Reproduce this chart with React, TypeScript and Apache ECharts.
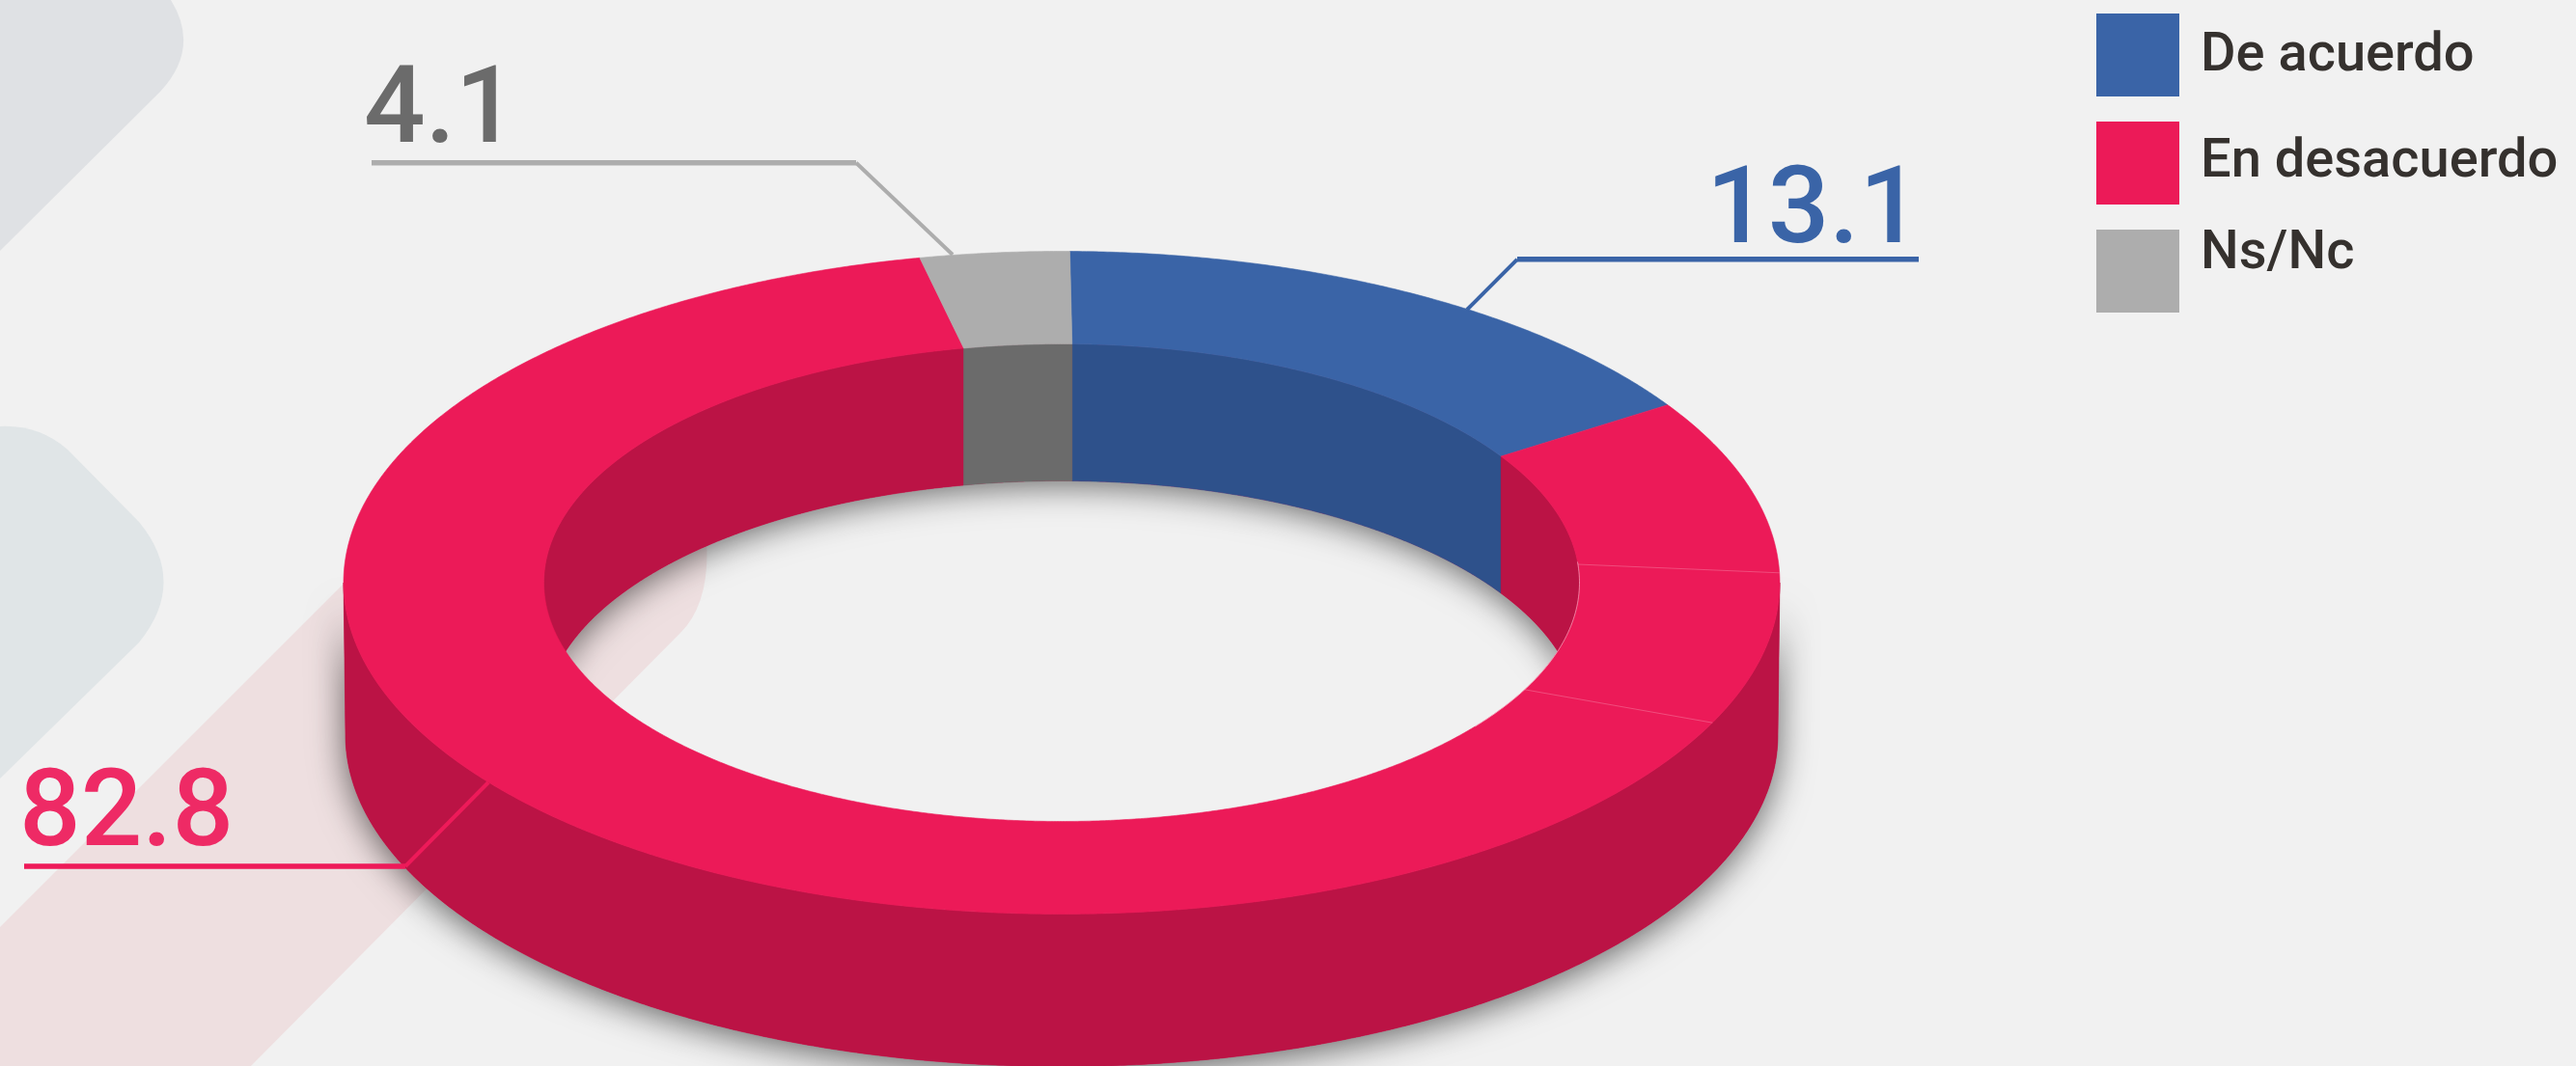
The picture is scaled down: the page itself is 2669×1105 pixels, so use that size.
import React, { useEffect, useRef } from "react";
import * as echarts from "echarts";

const categories = ["De acuerdo", "En desacuerdo", "Ns/Nc"];
const values = [13.1, 82.8, 4.1];
const topColors = ["#3a64a7", "#ec1a58", "#adadad"];
const wallColors = ["#2e518b", "#bb1345", "#6b6b6b"];
const labelColors = ["#3a64a7", "#ee2a65", "#6b6b6b"];

const W = 2669;
const H = 1105;
const CX = 1100;
const CY = 604;
const OUTER = { a: 744, b: 343.5 };
const INNER = { a: 536.5, b: 247.5 };
const OUTER_DEPTH = 158;
const INNER_DEPTH = 142;
// The reference ring is drawn in a hand-tuned perspective: slices are warped around the ellipse.
const WARP = { offset: 43.15, sin: -5.16, cos: -42.25 };
const OUTER_SKEW = -0.25;
const INNER_SKEW = 0.25;
const SEAM_INNER = [85.6, 116.6];
const SEAM_OUTER = [88.3, 115];

const total = values.reduce((s, v) => s + v, 0);
const rad = (d: number) => (d * Math.PI) / 180;
const warp = (theta: number) =>
  theta + WARP.offset + WARP.sin * Math.sin(rad(theta)) + WARP.cos * Math.cos(rad(theta));
const shareToAngle = (share: number) => warp(echarts.number.linearMap(share, [0, total], [0, 360]));

const cumulative = values.map((_, i) => values.slice(0, i).reduce((s, v) => s + v, 0));
const sliceRange = (i: number, skew: number): [number, number] => [
  shareToAngle(cumulative[i]) + skew,
  shareToAngle(cumulative[i] + values[i]) + skew,
];

type Ell = { a: number; b: number };
const pt = (e: Ell, phi: number, cy: number) => [CX + e.a * Math.sin(rad(phi)), cy - e.b * Math.cos(rad(phi))];
function arc(e: Ell, s: number, t: number, cy: number) {
  const n = Math.max(2, Math.ceil(Math.abs(t - s) * 3));
  const out: number[][] = [];
  for (let k = 0; k <= n; k++) out.push(pt(e, s + ((t - s) * k) / n, cy));
  return out;
}
function clip(r: [number, number], windows: [number, number][]) {
  const out: [number, number][] = [];
  for (const w of windows) {
    const s = Math.max(r[0], w[0]);
    const t = Math.min(r[1], w[1]);
    if (t > s) out.push([s, t]);
  }
  return out;
}
const OUTER_VISIBLE: [number, number][] = [[90, 270]];
const INNER_VISIBLE: [number, number][] = [[-90, 90], [270, 450]];
const OUTER_BASE = { a: 742, b: 343.5 };

const wall = (top: Ell, base: Ell, depth: number, s: number, t: number) => [
  ...arc(top, s, t, CY),
  ...arc(base, t, s, CY + depth),
];

function wallItem(i: number, top: Ell, base: Ell, depth: number, windows: [number, number][], skew: number) {
  return {
    type: "group",
    children: clip(sliceRange(i, skew), windows).map(([s, t]) => ({
      type: "polygon",
      shape: { points: wall(top, base, depth, s, t) },
      style: { fill: wallColors[i], stroke: wallColors[i], lineWidth: 0.6 },
    })),
  };
}

const indices = values.map((_, i) => i);

const bands = [
  { name: "bandA", d: "M0,0 L177,0 Q208,50 166,95 L0,260 Z", fill: "#dfe1e4" },
  { name: "bandB", d: "M0,442 Q40,440 70,466 L144,541 Q195,603 144,666 L0,807 Z", fill: "#e0e5e7" },
  { name: "bandC", d: "M0,961 L580,381 L732,560 Q736,625 705,656 L260,1105 L0,1105 Z", fill: "#eedfe0" },
];
bands.forEach((b) => echarts.graphic.registerShape(b.name, echarts.graphic.extendPath(b.d, {})));

const leaders = [
  { i: 0, h: [[1572, 268.8], [1988, 268.8]], d: [[1572, 268.8], [1520, 321]] },
  { i: 1, h: [[25, 898], [420, 898]], d: [[420, 898], [506, 811]] },
  { i: 2, h: [[385, 168.8], [887, 168.8]], d: [[887, 168.8], [987, 264]] },
];
const leaderColors = ["#3a64a7", "#ee1a59", "#adadad"];
const labelPos = [
  { x: 1768, y: 256 },
  { x: 20, y: 881 },
  { x: 377, y: 152 },
];
const legendSwatchY = [14, 126, 238];
const legendBaseY = [76, 186, 281];

const FONT = "Roboto";
const ASCENT = 0.885;

function buildOption() {
  const graphic: any[] = [];
  bands.forEach((b) => graphic.push({ type: b.name, x: 0, y: 0, z: 0, silent: true, style: { fill: b.fill } }));
  leaders.forEach((l) => {
    graphic.push({
      type: "polyline", z: 20, silent: true,
      shape: { points: l.h },
      style: { stroke: leaderColors[l.i], lineWidth: 5.5, fill: "none" },
    });
    graphic.push({
      type: "polyline", z: 20, silent: true,
      shape: { points: l.d },
      style: { stroke: leaderColors[l.i], lineWidth: 4, fill: "none" },
    });
    graphic.push({
      type: "text", z: 21, silent: true,
      x: labelPos[l.i].x, y: labelPos[l.i].y - ASCENT * 112,
      style: {
        text: values[l.i].toFixed(1),
        fontFamily: FONT, fontSize: 112, fontWeight: 500,
        fill: labelColors[l.i], align: "left", verticalAlign: "top",
      },
    });
  });
  categories.forEach((c, i) => {
    graphic.push({
      type: "rect", z: 20, silent: true,
      shape: { x: 2172, y: legendSwatchY[i], width: 86, height: 86 },
      style: { fill: topColors[i] },
    });
    graphic.push({
      type: "text", z: 21, silent: true,
      x: 2280, y: legendBaseY[i] - ASCENT * 56,
      style: {
        text: c, fontFamily: FONT, fontSize: 56, fontWeight: 500,
        fill: "#35312e", align: "left", verticalAlign: "top",
      },
    });
  });

  const base = { type: "custom", coordinateSystem: "none", silent: true, animation: false, clip: false };
  return {
    animation: false,
    backgroundColor: "#f1f1f1",
    graphic,
    series: [
      {
        ...base, name: "sombra", z: 2, data: [0],
        renderItem: () => ({
          type: "group",
          children: [
            {
              type: "polygon",
              shape: { points: wall(OUTER, OUTER_BASE, OUTER_DEPTH, 90, 270) },
              style: { fill: wallColors[1], shadowBlur: 36, shadowColor: "rgba(0,0,0,0.6)", shadowOffsetY: 6 },
            },
            {
              type: "polygon",
              shape: { points: wall(INNER, INNER, INNER_DEPTH, -90, 90) },
              style: { fill: wallColors[1], shadowBlur: 36, shadowColor: "rgba(0,0,0,0.6)", shadowOffsetY: 4 },
            },
          ],
        }),
      },
      {
        ...base, name: "pared exterior", z: 3, data: indices,
        renderItem: (_: any, api: any) =>
          wallItem(api.value(0), OUTER, OUTER_BASE, OUTER_DEPTH, OUTER_VISIBLE, OUTER_SKEW),
      },
      {
        ...base, name: "pared interior", z: 4, data: indices,
        renderItem: (_: any, api: any) =>
          wallItem(api.value(0), INNER, INNER, INNER_DEPTH, INNER_VISIBLE, INNER_SKEW),
      },
      {
        ...base, name: "cara superior", z: 5, data: indices,
        renderItem: (_: any, api: any) => {
          const i = api.value(0);
          const [os, ot] = sliceRange(i, OUTER_SKEW);
          const [is, it] = sliceRange(i, INNER_SKEW);
          return {
            type: "polygon",
            shape: { points: [...arc(OUTER, os, ot, CY), ...arc(INNER, it, is, CY)] },
            style: { fill: topColors[i], stroke: topColors[i], lineWidth: 0.6 },
          };
        },
      },
      {
        ...base, name: "costuras", z: 6, data: SEAM_INNER.map((_, k) => k),
        renderItem: (_: any, api: any) => {
          const k = api.value(0);
          return {
            type: "polyline",
            shape: { points: [pt(INNER, SEAM_INNER[k], CY), pt(OUTER, SEAM_OUTER[k], CY)] },
            style: { stroke: "rgba(255,255,255,0.22)", lineWidth: 1, fill: "none" },
          };
        },
      },
      {
        ...base, name: "filo", z: 6, data: [0],
        renderItem: () => ({
          type: "polyline",
          shape: { points: arc(INNER, 85, 127, CY) },
          style: { stroke: "rgba(255,255,255,0.45)", lineWidth: 1, fill: "none" },
        }),
      },
    ],
  };
}

export default function App() {
  const ref = useRef<HTMLDivElement>(null);
  useEffect(() => {
    const chart = echarts.init(ref.current!, undefined, { renderer: "svg" });
    chart.setOption(buildOption() as any);
    return () => chart.dispose();
  }, []);
  return <div ref={ref} style={{ position: "fixed", left: 0, top: 0, width: W, height: H }} />;
}
